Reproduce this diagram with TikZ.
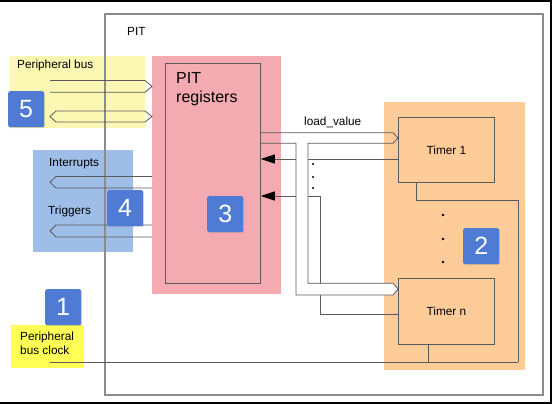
\documentclass[tikz,border=0pt]{standalone}
\usepackage{fontspec}
\setmainfont{Liberation Sans}
\usetikzlibrary{arrows.meta,positioning,calc,shadows}
\definecolor{paleyellow}{HTML}{FCF8B4}
\definecolor{clockyellow}{HTML}{FFFF55}
\definecolor{regpink}{HTML}{F3AAB0}
\definecolor{timerorange}{HTML}{FECC99}
\definecolor{irqblue}{HTML}{9FBEE7}
\definecolor{badgeblue}{HTML}{4F7BD4}
\definecolor{linegray}{HTML}{5A5A5A}
\definecolor{framegray}{HTML}{8C8C8C}
\begin{document}
\begin{tikzpicture}[x=1pt,y=-1pt,>=Latex,
 area/.style={anchor=north west,inner sep=0pt,outer sep=0pt},
 blk/.style={anchor=north west,draw=linegray,line width=0.8pt,inner sep=0pt,font=\fontsize{11.8}{14}\selectfont},
 badge/.style={anchor=north west,fill=badgeblue,rounded corners=2pt,minimum size=36,inner sep=0pt,text=white,font=\fontsize{25}{25}\selectfont,drop shadow={opacity=0.25,shadow xshift=0.8pt,shadow yshift=-0.8pt}},
 lbl/.style={anchor=west,inner sep=0pt,font=\fontsize{11.8}{14}\selectfont},
 w/.style={draw=linegray,line width=0.8pt},
 a/.style={w,-{Triangle[length=14pt,width=9pt,color=black]}}]
\useasboundingbox (0,0) rectangle (554,404);

% highlight areas
\node[area,fill=paleyellow,minimum width=135,minimum height=72] (busarea) at (10,56) {};
\node[area,fill=irqblue,minimum width=100,minimum height=102] (irqarea) at (33,150) {};
\node[area,fill=regpink,minimum width=129,minimum height=238] (regarea) at (152,56) {};
\node[area,fill=timerorange,minimum width=141,minimum height=268] (tmrarea) at (384,102) {};
\node[area,fill=clockyellow,minimum width=73,minimum height=43] (clkarea) at (11,325) {};

\node[area,draw=framegray,line width=1.2pt,minimum width=438,minimum height=381] (pit) at (105,14) {};
\node[lbl] (pitlbl) at (127,31) {PIT};

\node[blk,minimum width=95,minimum height=220] (regs) at (165,63) {};
\node[anchor=north west,align=left,inner sep=0pt,font=\fontsize{16}{19.5}\selectfont] (regtxt) at (176,72) {PIT\\registers};
\node[blk,minimum width=96,minimum height=65] (tmrone) at (398,117) {Timer 1};
\node[blk,minimum width=96,minimum height=66] (tmrn) at (398,278) {Timer n};

% clock
\draw[w] (50,362) -- (518,362);
\draw[w] (tmrn.south -| 428,0) -- (428,362);
\draw[w] (tmrone.south -| 416,0) |- (518,200) -- (518,362);

% interrupt lines
\draw[a] (tmrone.west |- 0,159) -- (regs.east |- 0,159);
\draw[a] (tmrn.west |- 0,314) -| (320,196) -- (regs.east |- 0,196);
\foreach \y in {164,177,188} \fill[black] (313,\y) circle (1.2pt);
\foreach \y in {215,239,262} \fill[black] (443,\y) circle (1.3pt);

% buses
\draw[w] (50,80.5) -- (145,80.5) -- (regarea.west |- 0,86.4) -- (145,92.3) -- (50,92.3);
\draw[w] (56,111) -- (145,111) -- (regarea.west |- 0,116.5) -- (145,122) -- (56,122) -- (50,116.5) -- cycle;
\draw[w] (regarea.west |- 0,176.5) -- (56,176.5) -- (50,182.2) -- (56,188) -- (regarea.west |- 0,188);
\draw[w] (regarea.west |- 0,225) -- (56,225) -- (50,231) -- (56,237) -- (regarea.west |- 0,237);
\fill[white] (296,143.3) -- (308,143.3) -- (308,283.3) -- (393,283.3) -- (tmrn.west |- 0,289) -- (393,295) -- (296,295) -- cycle;
\draw[w] (regs.east |- 0,132.7) -- (393,132.7) -- (tmrone.west |- 0,138) -- (393,143.3) -- (308,143.3) -- (308,283.3) -- (393,283.3) -- (tmrn.west |- 0,289) -- (393,295) -- (296,295) -- (296,143.3) -- (regs.east |- 0,143.3);

% labels
\node[lbl] (buslbl) at (17,65) {Peripheral bus};
\node[lbl] (loadlbl) at (304,122) {load\_value};
\node[lbl] (irqlbl) at (49,164) {Interrupts};
\node[lbl] (trglbl) at (48,211) {Triggers};
\node[lbl,align=left] (clklbl) at (20,343) {Peripheral\\bus clock};

% numbered badges
\node[badge] (bone) at (45,289) {1};
\node[badge] (btwo) at (463,228) {2};
\node[badge] (bthree) at (207,196) {3};
\node[badge] (bfour) at (107,190) {4};
\node[badge] (bfive) at (8,91) {5};

\draw[black,line width=2pt] (0,1) -- (551,1) -- (551,403) -- (0,403);
\end{tikzpicture}
\end{document}
